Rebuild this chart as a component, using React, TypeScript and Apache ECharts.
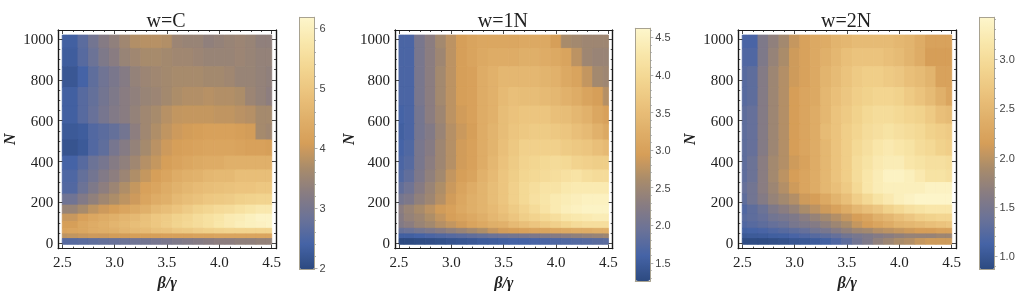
import React, { useEffect, useRef } from "react";
import * as echarts from "echarts";

const betas = [2.5, 2.6, 2.7, 2.8, 2.9, 3.0, 3.1, 3.2, 3.3, 3.4, 3.5, 3.6, 3.7, 3.8, 3.9, 4.0, 4.1, 4.2, 4.3, 4.4, 4.5];
const nEdges = [1019, 954, 864, 763, 672, 584, 506, 427, 359, 297, 241, 187, 143, 106, 73, 46, 23, -5];
const xMajor = [2.5, 3.0, 3.5, 4.0, 4.5];
const xMinor = [2.6, 2.7, 2.8, 2.9, 3.1, 3.2, 3.3, 3.4, 3.6, 3.7, 3.8, 3.9, 4.1, 4.2, 4.3, 4.4];
const yMajor = [0, 200, 400, 600, 800, 1000];
const yMinor = [50, 100, 150, 250, 300, 350, 450, 500, 550, 650, 700, 750, 850, 900, 950];
const titles = ["w=C", "w=1N", "w=2N"];
const ramp = ["#2d4a80", "#4563a6", "#6a7298", "#887c82", "#a88b6b", "#d69e58", "#e0b06a", "#ebc37d", "#f3d691", "#f9e7ab", "#fdf6cc"];

const valuesC = [
  [2.35, 2.35, 2.65, 2.95, 3.2, 3.35, 3.55, 3.75, 3.8, 3.8, 3.75, 3.5, 3.45, 3.45, 3.35, 3.4, 3.45, 3.5, 3.45, 3.35, 3.35],
  [2.3, 2.3, 2.6, 2.85, 3.1, 3.25, 3.45, 3.55, 3.65, 3.65, 3.6, 3.55, 3.55, 3.5, 3.45, 3.45, 3.45, 3.5, 3.45, 3.4, 3.4],
  [2.2, 2.2, 2.4, 2.7, 2.9, 3.05, 3.2, 3.4, 3.5, 3.55, 3.6, 3.65, 3.65, 3.65, 3.6, 3.6, 3.55, 3.45, 3.45, 3.4, 3.35],
  [2.35, 2.35, 2.6, 2.75, 2.95, 3.1, 3.25, 3.35, 3.45, 3.5, 3.6, 3.7, 3.75, 3.75, 3.8, 3.75, 3.75, 3.7, 3.5, 3.4, 3.3],
  [2.35, 2.35, 2.6, 2.8, 3.0, 3.15, 3.25, 3.4, 3.55, 3.65, 3.8, 3.9, 3.92, 3.92, 3.92, 3.88, 3.88, 3.82, 3.78, 3.62, 3.62],
  [2.25, 2.25, 2.3, 2.55, 2.65, 2.75, 2.95, 3.3, 3.55, 3.72, 3.88, 4.0, 4.05, 4.1, 4.15, 4.15, 4.15, 4.1, 4.05, 3.62, 3.55],
  [2.15, 2.15, 2.25, 2.55, 2.7, 3.0, 3.2, 3.4, 3.62, 3.82, 4.0, 4.1, 4.15, 4.2, 4.25, 4.25, 4.25, 4.2, 4.15, 4.15, 4.1],
  [2.4, 2.4, 2.6, 2.85, 3.0, 3.2, 3.35, 3.55, 3.78, 3.92, 4.1, 4.2, 4.3, 4.35, 4.4, 4.4, 4.5, 4.5, 4.5, 4.5, 4.5],
  [2.5, 2.5, 2.75, 2.95, 3.15, 3.3, 3.5, 3.72, 3.92, 4.1, 4.25, 4.4, 4.5, 4.55, 4.65, 4.7, 4.7, 4.8, 4.8, 4.8, 4.8],
  [2.55, 2.55, 2.85, 3.1, 3.3, 3.5, 3.72, 3.92, 4.15, 4.25, 4.4, 4.55, 4.65, 4.75, 4.8, 4.85, 4.9, 4.95, 4.95, 5.0, 5.0],
  [2.9, 2.9, 3.15, 3.35, 3.55, 3.7, 3.85, 4.0, 4.25, 4.4, 4.5, 4.7, 4.8, 4.9, 5.0, 5.05, 5.1, 5.2, 5.25, 5.3, 5.3],
  [3.45, 3.45, 3.65, 3.85, 4.0, 4.1, 4.25, 4.35, 4.5, 4.7, 4.8, 4.95, 5.1, 5.25, 5.35, 5.45, 5.5, 5.6, 5.7, 5.8, 5.8],
  [3.95, 3.95, 4.15, 4.3, 4.4, 4.5, 4.6, 4.7, 4.85, 5.0, 5.1, 5.25, 5.35, 5.5, 5.6, 5.7, 5.85, 5.9, 6.0, 6.1, 6.1],
  [4.1, 4.1, 4.3, 4.4, 4.5, 4.6, 4.7, 4.8, 4.9, 5.0, 5.15, 5.3, 5.4, 5.5, 5.6, 5.75, 5.85, 5.95, 6.0, 6.05, 6.1],
  [4.2, 4.25, 4.3, 4.4, 4.45, 4.5, 4.6, 4.7, 4.75, 4.85, 4.9, 5.0, 5.05, 5.15, 5.2, 5.25, 5.3, 5.3, 5.3, 5.3, 5.3],
  [3.85, 3.9, 3.95, 4.0, 4.0, 4.05, 4.05, 4.1, 4.1, 4.1, 4.15, 4.15, 4.15, 4.2, 4.2, 4.25, 4.25, 4.25, 4.25, 4.25, 4.25],
  [2.6, 2.6, 2.65, 2.7, 2.75, 2.8, 2.85, 2.9, 2.95, 3.0, 3.05, 3.1, 3.15, 3.2, 3.25, 3.3, 3.3, 3.35, 3.35, 3.4, 3.4],
];

const values1N = [
  [1.65, 1.65, 2.1, 2.3, 2.55, 2.75, 2.95, 3.05, 3.1, 3.1, 3.1, 3.1, 3.15, 3.15, 3.15, 2.95, 2.6, 2.55, 2.5, 2.5, 2.5],
  [1.65, 1.65, 2.1, 2.3, 2.5, 2.75, 2.95, 3.05, 3.15, 3.2, 3.2, 3.2, 3.25, 3.25, 3.2, 3.15, 3.05, 2.75, 2.5, 2.45, 2.45],
  [1.65, 1.65, 2.1, 2.3, 2.55, 2.75, 2.95, 3.0, 3.2, 3.3, 3.4, 3.4, 3.4, 3.4, 3.35, 3.3, 3.15, 3.05, 2.8, 2.55, 2.5],
  [1.65, 1.65, 2.1, 2.3, 2.55, 2.75, 2.95, 3.0, 3.2, 3.3, 3.45, 3.55, 3.5, 3.5, 3.45, 3.4, 3.3, 3.2, 3.05, 2.95, 2.7],
  [1.6, 1.65, 2.05, 2.3, 2.5, 2.75, 2.9, 3.0, 3.2, 3.3, 3.5, 3.6, 3.65, 3.65, 3.65, 3.55, 3.5, 3.4, 3.3, 3.1, 3.0],
  [1.55, 1.65, 2.05, 2.2, 2.45, 2.7, 2.85, 2.95, 3.2, 3.35, 3.5, 3.65, 3.7, 3.75, 3.75, 3.7, 3.65, 3.55, 3.45, 3.3, 3.15],
  [1.6, 1.7, 2.1, 2.25, 2.5, 2.7, 2.9, 3.0, 3.2, 3.35, 3.55, 3.7, 3.85, 3.85, 3.85, 3.85, 3.75, 3.7, 3.65, 3.55, 3.45],
  [1.65, 1.75, 2.1, 2.3, 2.5, 2.7, 2.9, 3.0, 3.2, 3.4, 3.6, 3.75, 3.9, 3.95, 4.0, 4.05, 4.0, 3.9, 3.85, 3.8, 3.8],
  [1.7, 1.85, 2.15, 2.35, 2.55, 2.8, 2.95, 3.05, 3.3, 3.45, 3.65, 3.8, 3.95, 4.0, 4.05, 4.1, 4.15, 4.2, 4.1, 4.05, 4.05],
  [1.85, 2.0, 2.25, 2.45, 2.65, 2.85, 3.05, 3.2, 3.35, 3.5, 3.65, 3.85, 4.0, 4.1, 4.2, 4.2, 4.3, 4.35, 4.35, 4.35, 4.35],
  [2.05, 2.15, 2.35, 2.5, 2.7, 2.9, 3.1, 3.25, 3.35, 3.5, 3.65, 3.85, 4.0, 4.15, 4.25, 4.35, 4.4, 4.45, 4.5, 4.5, 4.5],
  [2.3, 2.45, 2.6, 2.75, 2.9, 3.0, 3.15, 3.25, 3.35, 3.45, 3.6, 3.75, 3.9, 4.05, 4.2, 4.35, 4.45, 4.5, 4.55, 4.55, 4.55],
  [2.25, 2.4, 2.5, 2.65, 2.8, 2.95, 3.05, 3.15, 3.25, 3.4, 3.5, 3.65, 3.8, 3.9, 4.0, 4.1, 4.25, 4.3, 4.35, 4.4, 4.4],
  [2.2, 2.3, 2.45, 2.55, 2.7, 2.8, 2.9, 3.05, 3.15, 3.25, 3.3, 3.45, 3.55, 3.65, 3.75, 3.85, 3.95, 4.05, 4.1, 4.1, 4.1],
  [1.9, 1.95, 2.05, 2.15, 2.25, 2.35, 2.45, 2.55, 2.65, 2.8, 2.9, 2.95, 3.0, 3.05, 3.05, 3.1, 3.15, 3.2, 3.2, 3.25, 3.25],
  [1.55, 1.55, 1.6, 1.65, 1.7, 1.75, 1.8, 1.85, 1.9, 1.95, 2.0, 2.05, 2.1, 2.15, 2.2, 2.25, 2.3, 2.35, 2.4, 2.45, 2.5],
  [1.28, 1.28, 1.3, 1.32, 1.35, 1.38, 1.42, 1.45, 1.5, 1.52, 1.55, 1.6, 1.6, 1.62, 1.65, 1.68, 1.7, 1.72, 1.75, 1.78, 1.8],
];

const values2N = [
  [1.15, 1.15, 1.55, 1.7, 1.85, 2.05, 2.2, 2.3, 2.35, 2.45, 2.5, 2.55, 2.55, 2.55, 2.55, 2.5, 2.45, 2.35, 2.2, 2.2, 2.2],
  [1.2, 1.2, 1.55, 1.75, 1.9, 2.1, 2.2, 2.3, 2.4, 2.5, 2.6, 2.65, 2.65, 2.65, 2.6, 2.55, 2.45, 2.35, 2.15, 2.15, 2.15],
  [1.25, 1.3, 1.6, 1.8, 1.95, 2.1, 2.2, 2.3, 2.45, 2.55, 2.65, 2.75, 2.8, 2.8, 2.75, 2.7, 2.6, 2.55, 2.45, 2.2, 2.2],
  [1.25, 1.3, 1.6, 1.8, 1.95, 2.15, 2.25, 2.3, 2.5, 2.6, 2.7, 2.8, 2.85, 2.9, 2.9, 2.85, 2.75, 2.65, 2.55, 2.4, 2.25],
  [1.3, 1.35, 1.6, 1.8, 1.95, 2.15, 2.25, 2.35, 2.5, 2.65, 2.75, 2.85, 2.95, 3.0, 3.0, 2.95, 2.9, 2.85, 2.75, 2.6, 2.55],
  [1.3, 1.35, 1.6, 1.8, 1.95, 2.15, 2.25, 2.35, 2.55, 2.65, 2.8, 2.9, 3.0, 3.05, 3.1, 3.05, 3.0, 2.95, 2.85, 2.8, 2.75],
  [1.3, 1.35, 1.6, 1.8, 1.95, 2.15, 2.25, 2.35, 2.5, 2.65, 2.8, 2.95, 3.05, 3.15, 3.2, 3.15, 3.1, 3.0, 2.95, 2.85, 2.8],
  [1.3, 1.4, 1.65, 1.85, 1.95, 2.1, 2.2, 2.35, 2.5, 2.65, 2.8, 3.0, 3.1, 3.2, 3.25, 3.25, 3.15, 3.1, 3.05, 3.05, 3.0],
  [1.3, 1.4, 1.65, 1.85, 2.0, 2.15, 2.25, 2.35, 2.5, 2.65, 2.8, 3.0, 3.15, 3.25, 3.35, 3.35, 3.3, 3.2, 3.1, 3.1, 3.05],
  [1.35, 1.45, 1.65, 1.8, 1.95, 2.1, 2.25, 2.35, 2.5, 2.6, 2.75, 2.95, 3.15, 3.25, 3.3, 3.3, 3.3, 3.3, 3.35, 3.35, 3.35],
  [1.3, 1.45, 1.6, 1.75, 1.85, 1.95, 2.1, 2.15, 2.3, 2.45, 2.6, 2.8, 2.95, 3.1, 3.2, 3.3, 3.35, 3.4, 3.4, 3.4, 3.4],
  [1.2, 1.3, 1.4, 1.55, 1.65, 1.75, 1.9, 2.0, 2.1, 2.2, 2.35, 2.5, 2.6, 2.7, 2.85, 2.95, 3.05, 3.1, 3.15, 3.15, 3.15],
  [1.25, 1.3, 1.35, 1.45, 1.5, 1.55, 1.65, 1.75, 1.85, 1.95, 2.05, 2.15, 2.25, 2.4, 2.5, 2.6, 2.7, 2.8, 2.85, 2.9, 2.9],
  [1.2, 1.25, 1.3, 1.35, 1.4, 1.5, 1.55, 1.6, 1.7, 1.8, 1.9, 2.05, 2.15, 2.25, 2.35, 2.45, 2.5, 2.55, 2.6, 2.65, 2.7],
  [1.1, 1.12, 1.15, 1.2, 1.25, 1.3, 1.35, 1.45, 1.5, 1.6, 1.7, 1.8, 1.85, 1.95, 2.0, 2.05, 2.1, 2.15, 2.15, 2.2, 2.2],
  [1.02, 1.04, 1.05, 1.08, 1.1, 1.15, 1.2, 1.25, 1.3, 1.35, 1.45, 1.5, 1.55, 1.6, 1.65, 1.7, 1.75, 1.75, 1.75, 1.8, 1.8],
  [0.9, 0.9, 0.9, 0.92, 0.95, 1.0, 1.02, 1.05, 1.1, 1.2, 1.3, 1.45, 1.55, 1.7, 1.8, 1.9, 1.95, 2.05, 2.1, 2.1, 2.1],
];

const colorMajorC = [2, 3, 4, 5, 6];
const colorMinorC = [2.2, 2.4, 2.6, 2.8, 3.2, 3.4, 3.6, 3.8, 4.2, 4.4, 4.6, 4.8, 5.2, 5.4, 5.6, 5.8];
const colorMajor1N = [1.5, 2.0, 2.5, 3.0, 3.5, 4.0, 4.5];
const colorMinor1N = [1.3, 1.4, 1.6, 1.7, 1.8, 1.9, 2.1, 2.2, 2.3, 2.4, 2.6, 2.7, 2.8, 2.9, 3.1, 3.2, 3.3, 3.4, 3.6, 3.7, 3.8, 3.9, 4.1, 4.2, 4.3, 4.4, 4.6];
const colorMajor2N = [1.0, 1.5, 2.0, 2.5, 3.0];
const colorMinor2N = [0.9, 1.1, 1.2, 1.3, 1.4, 1.6, 1.7, 1.8, 1.9, 2.1, 2.2, 2.3, 2.4, 2.6, 2.7, 2.8, 2.9, 3.1, 3.2, 3.3, 3.4];

const panels = [
  { title: titles[0], values: valuesC, min: 1.98, max: 6.18, left: 58.3, barLeft: 299.5, barTop: 17.3, barH: 252, major: colorMajorC, minor: colorMinorC, digits: 0, nameGap: 41 },
  { title: titles[1], values: values1N, min: 1.26, max: 4.62, left: 395, barLeft: 635.3, barTop: 28.3, barH: 252.7, major: colorMajor1N, minor: colorMinor1N, digits: 1, nameGap: 39 },
  { title: titles[2], values: values2N, min: 0.87, max: 3.42, left: 738.3, barLeft: 979.5, barTop: 17.3, barH: 252, major: colorMajor2N, minor: colorMinor2N, digits: 1, nameGap: 41 },
];

const frameW = 217.7;
const frameH = 218.6;
const frameTop = 30;
const xRange = [2.462, 4.541];
const yRange = [-26, 1044];
const serif = "'Liberation Serif', serif";

function cells(values: number[][]) {
  const out: number[][] = [];
  values.forEach((row, r) => {
    row.forEach((v, c) => {
      const b = betas[c];
      out.push([b, nEdges[r + 1], nEdges[r], v, Math.max(2.5, b - 0.05), Math.min(4.5, b + 0.05)]);
    });
  });
  return out;
}

function frameAxis(kind: string, gridIndex: number, position: string, range: number[], ticks: number[], len: number, extra: any = {}) {
  return {
    type: "value",
    gridIndex,
    position,
    min: range[0],
    max: range[1],
    z: 5,
    splitLine: { show: false },
    axisLine: { show: true, onZero: false, lineStyle: { color: "#1a1a1a", width: 1.2 } },
    axisTick: { show: true, inside: true, length: len, customValues: ticks, lineStyle: { color: "#1a1a1a", width: 0.8 } },
    axisLabel: { show: false },
    ...extra,
  };
}

function buildOption() {
  const grids: any[] = [];
  const xAxes: any[] = [];
  const yAxes: any[] = [];
  const series: any[] = [];
  const visualMaps: any[] = [];
  const titleList: any[] = [];

  panels.forEach((p, i) => {
    const gridIndex = grids.length;
    grids.push({ left: p.left, top: frameTop, width: frameW, height: frameH, outerBoundsMode: "none" });
    const xi = xAxes.length;
    const yi = yAxes.length;
    xAxes.push(
      frameAxis("x", gridIndex, "bottom", xRange, xMajor, 4, {
        name: "β/γ",
        nameLocation: "middle",
        nameGap: 24,
        nameTextStyle: { fontFamily: serif, fontSize: 16, fontWeight: "bold", fontStyle: "italic", color: "#222" },
        axisLabel: { show: true, customValues: xMajor, margin: 6, fontFamily: serif, fontSize: 15, color: "#222", formatter: (v: number) => v.toFixed(1) },
      }),
      frameAxis("x", gridIndex, "bottom", xRange, xMinor, 2),
      frameAxis("x", gridIndex, "top", xRange, xMajor, 4),
      frameAxis("x", gridIndex, "top", xRange, xMinor, 2),
    );
    yAxes.push(
      frameAxis("y", gridIndex, "left", yRange, yMajor, 4, {
        name: "N",
        nameLocation: "middle",
        nameGap: p.nameGap,
        nameTextStyle: { fontFamily: serif, fontSize: 16, fontWeight: "bold", fontStyle: "italic", color: "#222" },
        axisLabel: { show: true, customValues: yMajor, margin: 5, fontFamily: serif, fontSize: 15, color: "#222", formatter: (v: number) => String(v) },
      }),
      frameAxis("y", gridIndex, "left", yRange, yMinor, 2),
      frameAxis("y", gridIndex, "right", yRange, yMajor, 4),
      frameAxis("y", gridIndex, "right", yRange, yMinor, 2),
    );
    const seriesIndex = series.length;
    series.push({
      type: "custom",
      xAxisIndex: xi,
      yAxisIndex: yi,
      silent: true,
      clip: true,
      encode: { x: [0], y: [1, 2] },
      data: cells(p.values),
      renderItem: (_: any, api: any) => {
        const a = api.coord([api.value(4), api.value(2)]);
        const b = api.coord([api.value(5), api.value(1)]);
        const color = api.visual("color");
        return {
          type: "rect",
          shape: { x: a[0], y: a[1], width: b[0] - a[0], height: b[1] - a[1] },
          style: { fill: color, stroke: color, lineWidth: 0.9 },
        };
      },
    });
    visualMaps.push({
      type: "continuous",
      seriesIndex,
      dimension: 3,
      min: p.min,
      max: p.max,
      calculable: false,
      hoverLink: false,
      realtime: false,
      left: p.barLeft,
      top: p.barTop,
      itemWidth: 15,
      itemHeight: p.barH,
      padding: 0,
      text: null,
      z: 1,
      inRange: { color: ramp },
    });
    titleList.push({
      text: p.title,
      left: p.left + frameW / 2 - 1,
      top: 10,
      textAlign: "center",
      padding: 0,
      textStyle: { fontFamily: serif, fontSize: 20, fontWeight: "normal", color: "#222" },
    });

    const barGrid = grids.length;
    grids.push({ left: p.barLeft, top: p.barTop, width: 15, height: p.barH, outerBoundsMode: "none" });
    const barAxis = (pos: string, ticks: number[], len: number, extra: any = {}) => ({
      type: "value",
      gridIndex: barGrid,
      position: pos,
      min: p.min,
      max: p.max,
      z: 5,
      splitLine: { show: false },
      axisLine: { show: true, onZero: false, lineStyle: { color: "#a8a290", width: 1 } },
      axisTick: { show: true, inside: false, length: len, customValues: ticks, lineStyle: { color: "#9a9a9a", width: 0.8 } },
      axisLabel: { show: false },
      ...extra,
    });
    yAxes.push(
      barAxis("right", p.major, 3, {
        axisLabel: { show: true, customValues: p.major, margin: 5, fontFamily: "'Liberation Sans', sans-serif", fontSize: 11, color: "#444", formatter: (v: number) => v.toFixed(p.digits) },
      }),
      barAxis("right", p.minor, 1.5),
      { ...barAxis("left", [], 0), axisTick: { show: false } },
    );
    const hide = (pos: string) => ({
      type: "value",
      gridIndex: barGrid,
      position: pos,
      min: 0,
      max: 1,
      z: 5,
      splitLine: { show: false },
      axisLine: { show: true, onZero: false, lineStyle: { color: "#a8a290", width: 1 } },
      axisTick: { show: false },
      axisLabel: { show: false },
    });
    xAxes.push(hide("bottom"), hide("top"));
  });

  return {
    animation: false,
    backgroundColor: "#ffffff",
    title: titleList,
    grid: grids,
    xAxis: xAxes,
    yAxis: yAxes,
    visualMap: visualMaps,
    series,
  };
}

export default function App() {
  const ref = useRef<HTMLDivElement>(null);
  useEffect(() => {
    document.body.style.margin = "0";
    const chart = echarts.init(ref.current!, undefined, { renderer: "svg" });
    chart.setOption(buildOption() as any);
    return () => chart.dispose();
  }, []);
  return <div ref={ref} style={{ width: 1020, height: 291, filter: "blur(0.45px)" }} />;
}
